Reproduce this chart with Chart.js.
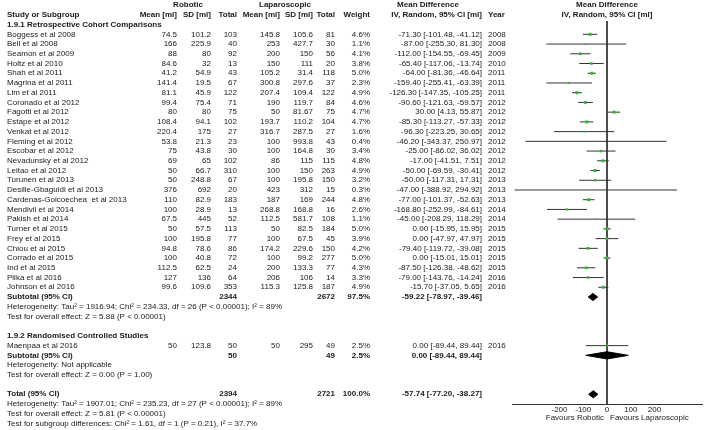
<!DOCTYPE html>
<html><head><meta charset="utf-8">
<script src="https://cdn.jsdelivr.net/npm/chart.js@4/dist/chart.umd.min.js"></script>
<style>html,body{margin:0;padding:0;background:#fff}#wrap{width:709px;height:430px;position:relative}</style>
</head><body><div id="wrap"><canvas id="c" width="709" height="430"></canvas></div>
<script>
// ---------- data ----------
const studies = ['Boggess et al 2008','Bell et al 2008','Seamon et al 2009','Holtz et al 2010','Shah et al 2011','Magrina et al 2011','Lim et al 2011','Coronado et al 2012','Fagotti et al 2012','Estape et al 2012','Venkat et al 2012','Fleming et al 2012','Escobar et al 2012','Nevadunsky et al 2012','Leitao et al 2012','Turunen et al 2013','Desille-Gbaguidi et al 2013','Cardenas-Goicoechea  et al 2013','Mendivil et al 2014','Pakish et al 2014','Turner et al 2015','Frey et al 2015','Chiou et al 2015','Corrado et al 2015','Ind et al 2015','Pilka et al 2016','Johnson et al 2016','Maenpaa et al 2016'];
const groupOf = [1,1,1,1,1,1,1,1,1,1,1,1,1,1,1,1,1,1,1,1,1,1,1,1,1,1,1,2];
const years = [2008,2008,2009,2010,2011,2011,2011,2012,2012,2012,2012,2012,2012,2012,2012,2013,2013,2013,2014,2014,2015,2015,2015,2015,2015,2016,2016,2016];
const robMean = [74.5,166,88,84.6,41.2,141.4,81.1,99.4,80,108.4,220.4,53.8,75,69,50,50,376,110,100,67.5,50,100,94.8,100,112.5,127,99.6,50];
const robSD = [101.2,225.9,80,32,54.9,19.5,45.9,75.4,80,94.1,175,21.3,43.8,65,66.7,248.8,692,82.9,28.9,445,57.5,195.8,78.6,40.8,62.5,136,109.6,123.8];
const robTotal = [103,40,92,13,43,67,122,71,75,102,27,23,30,102,310,67,20,183,13,52,113,77,86,72,24,64,353,50];
const lapMean = [145.8,253,200,150,105.2,300.8,207.4,190,50,193.7,316.7,100,100,86,100,100,423,187,268.8,112.5,50,100,174.2,100,200,206,115.3,50];
const lapSD = [105.6,427.7,150,111,31.4,297.6,109.4,119.7,81.67,110.2,287.5,993.8,164.8,115,150,195.8,312,169,168.8,581.7,82.5,67.5,229.6,99.2,133.3,106,125.8,295];
const lapTotal = [81,30,56,20,118,37,122,84,75,104,27,43,30,115,263,150,15,244,16,108,184,45,150,277,77,14,187,49];
const weights = [4.6,1.1,4.1,3.8,5.0,2.3,4.9,4.6,4.7,4.7,1.6,0.4,3.4,4.8,4.9,3.2,0.3,4.8,2.6,1.1,5.0,3.9,4.2,5.0,4.3,3.3,4.9,2.5];
const meanDiff = [-71.30,-87.00,-112.00,-65.40,-64.00,-159.40,-126.30,-90.60,30.00,-85.30,-96.30,-46.20,-25.00,-17.00,-50.00,-50.00,-47.00,-77.00,-168.80,-45.00,0.00,0.00,-79.40,0.00,-87.50,-79.00,-15.70,0.00];
const ciLow = [-101.48,-255.30,-154.55,-117.06,-81.36,-255.41,-147.35,-121.63,4.13,-113.27,-223.25,-343.37,-86.02,-41.51,-69.59,-117.31,-388.92,-101.37,-252.99,-208.29,-15.95,-47.97,-119.72,-15.01,-126.38,-143.76,-37.05,-89.44];
const ciHigh = [-41.12,81.30,-69.45,-13.74,-46.64,-63.39,-105.25,-59.57,55.87,-57.33,30.65,250.97,36.02,7.51,-30.41,17.31,294.92,-52.63,-84.61,118.29,15.95,47.97,-39.08,15.01,-48.62,-14.24,5.65,89.44];

const summaryNames = ['Subtotal (95% CI)','Subtotal (95% CI)','Total (95% CI)'];
const summaryRobTotal = [2344,50,2394];
const summaryLapTotal = [2672,49,2721];
const summaryWeight = [97.5,2.5,100.0];
const summaryMD = [-59.22,0.00,-57.74];
const summaryLow = [-78.97,-89.44,-77.20];
const summaryHigh = [-39.46,89.44,-38.27];

const groupTitles = ['1.9.1 Retrospective Cohort Comparisons','1.9.2 Randomised Controlled Studies'];
const footnotes1 = ['Heterogeneity: Tau² = 1916.94; Chi² = 234.33, df = 26 (P < 0.00001); I² = 89%','Test for overall effect: Z = 5.88 (P < 0.00001)'];
const footnotes2 = ['Heterogeneity: Not applicable','Test for overall effect: Z = 0.00 (P = 1.00)'];
const footnotesTotal = ['Heterogeneity: Tau² = 1907.01; Chi² = 235.23, df = 27 (P < 0.00001); I² = 89%','Test for overall effect: Z = 5.81 (P < 0.00001)','Test for subgroup differences: Chi² = 1.61, df = 1 (P = 0.21), I² = 37.7%'];
const xTicks = [-200,-100,0,100,200];
const favourLabels = ['Favours Robotic','Favours Laparoscopic'];

// ---------- layout (rows) ----------
const ROW_TOP = -1.37, ROW_BOTTOM = 38;
let g1 = 0;
const studyRow = studies.map((s,i)=> groupOf[i]===1 ? g1++ : 32);
const summaryRow = [27,33,37];
const HALF = 0.37;

const FONT = '"Liberation Sans", Arial, sans-serif';
const FS = 8;
const TXT = '#1a1a1a';

const ciData = [];
studies.forEach((s,i)=>{ ciData.push({x:ciLow[i],y:studyRow[i]},{x:ciHigh[i],y:studyRow[i]},{x:null,y:null}); });
const pointData = studies.map((s,i)=>({x:meanDiff[i],y:studyRow[i]}));
const diamondSets = summaryMD.map((m,k)=>({
  type:'line',
  data:[{x:summaryLow[k],y:summaryRow[k]},{x:m,y:summaryRow[k]-HALF},{x:summaryHigh[k],y:summaryRow[k]},{x:m,y:summaryRow[k]+HALF},{x:summaryLow[k],y:summaryRow[k]}],
  borderColor:'#000', backgroundColor:'#000', borderWidth:1, fill:'shape', pointRadius:0, tension:0, showLine:true
}));

function fmt2(v){ return v.toFixed(2); }
function mdText(m,l,h){ return fmt2(m)+' ['+fmt2(l)+', '+fmt2(h)+']'; }

const textPlugin = {
  id:'forestText',
  afterDraw(chart){
    const ctx = chart.ctx, ys = chart.scales.y, xs = chart.scales.x;
    const Y = r => ys.getPixelForValue(r);
    const putPx = (t,x,py,align,bold)=>{
      ctx.font = (bold?'bold ':'')+FS+'px '+FONT;
      ctx.textAlign = align; ctx.textBaseline = 'middle'; ctx.fillStyle = TXT;
      ctx.fillText(t,x,py);
    };
    const put = (t,x,r,align,bold)=>putPx(t,x,Y(r),align,bold);
    const zx = xs.getPixelForValue(0);
    ctx.save();
    // headers
    put('Robotic',188,-3,'center',true);
    put('Laparoscopic',285,-3,'center',true);
    put('Mean Difference',428,-3,'center',true);
    put('Mean Difference',zx,-3,'center',true);
    put('Study or Subgroup',7,-2,'left',true);
    put('Mean [ml]',177,-2,'right',true);
    put('SD [ml]',211,-2,'right',true);
    put('Total',237,-2,'right',true);
    put('Mean [ml]',280,-2,'right',true);
    put('SD [ml]',313,-2,'right',true);
    put('Total',335,-2,'right',true);
    put('Weight',370,-2,'right',true);
    put('IV, Random, 95% CI [ml]',482,-2,'right',true);
    put('Year',488,-2,'left',true);
    put('IV, Random, 95% CI [ml]',zx,-2,'center',true);
    put(groupTitles[0],7,-1,'left',true);
    put(groupTitles[1],7,31,'left',true);
    // study rows
    studies.forEach((s,i)=>{
      const r = studyRow[i];
      put(s,7,r,'left',false);
      put(String(robMean[i]),177,r,'right');
      put(String(robSD[i]),211,r,'right');
      put(String(robTotal[i]),237,r,'right');
      put(String(lapMean[i]),280,r,'right');
      put(String(lapSD[i]),313,r,'right');
      put(String(lapTotal[i]),335,r,'right');
      put(weights[i].toFixed(1)+'%',370,r,'right');
      put(mdText(meanDiff[i],ciLow[i],ciHigh[i]),482,r,'right');
      put(String(years[i]),488,r,'left');
    });
    // summaries
    summaryNames.forEach((n,k)=>{
      const r = summaryRow[k];
      put(n,7,r,'left',true);
      put(String(summaryRobTotal[k]),237,r,'right',true);
      put(String(summaryLapTotal[k]),335,r,'right',true);
      put(summaryWeight[k].toFixed(1)+'%',370,r,'right',true);
      put(mdText(summaryMD[k],summaryLow[k],summaryHigh[k]),482,r,'right',true);
    });
    footnotes1.forEach((t,j)=>put(t,7,28+j,'left'));
    footnotes2.forEach((t,j)=>put(t,7,34+j,'left'));
    footnotesTotal.forEach((t,j)=>put(t,7,38+j,'left'));
    // favours
    const fy = chart.chartArea.bottom + 14;
    putPx(favourLabels[0],zx-3,fy,'right');
    putPx(favourLabels[1],zx+3,fy,'left');
    ctx.restore();
  }
};

new Chart(document.getElementById('c'),{
  type:'scatter',
  data:{datasets:[
    {data:pointData, pointStyle:'rect', pointRadius:weights.map(w=>Math.sqrt(w)*0.95), backgroundColor:'#2fb52f', borderWidth:0, showLine:false},
    {type:'line', data:ciData, borderColor:'#333', borderWidth:1, pointRadius:0, spanGaps:false, showLine:true, fill:false},
    ...diamondSets,
    {type:'line', data:[{x:0,y:ROW_TOP},{x:0,y:ROW_BOTTOM}], borderColor:'#333', borderWidth:1, pointRadius:0, fill:false}
  ]},
  options:{
    responsive:false, animation:false, events:[],
    layout:{padding:{left:512,right:7,top:21,bottom:0}},
    plugins:{legend:{display:false},tooltip:{enabled:false}},
    scales:{
      x:{type:'linear', min:-400, max:400,
         afterBuildTicks:s=>{ s.ticks = xTicks.map(v=>({value:v})); },
         afterFit:s=>{ s.height = 26; },
         grid:{display:false, drawTicks:false},
         border:{display:true, color:'#333', width:1},
         ticks:{font:{size:FS, family:FONT}, color:TXT, padding:1, maxRotation:0, autoSkip:false}},
      y:{type:'linear', reverse:true, min:ROW_TOP, max:ROW_BOTTOM, display:false}
    }
  },
  plugins:[textPlugin]
});
</script></body></html>
